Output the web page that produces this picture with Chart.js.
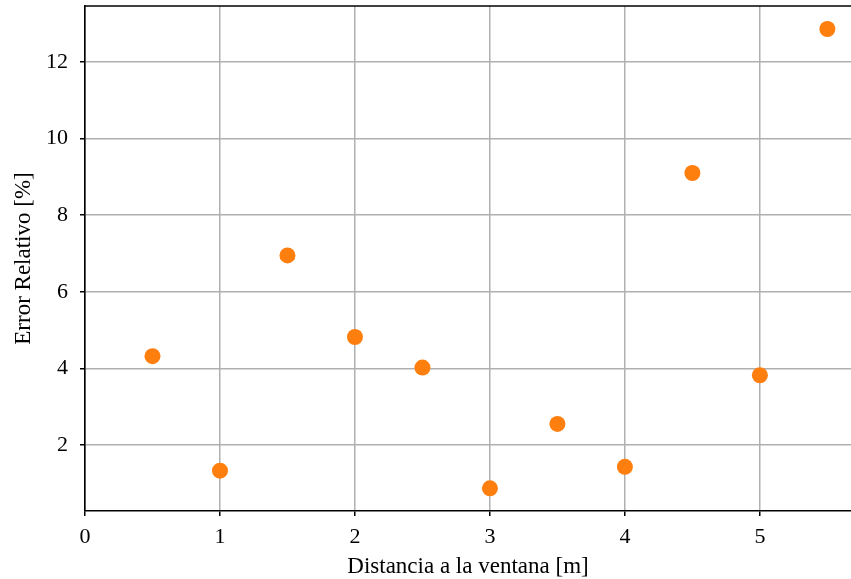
<!DOCTYPE html>
<html>
<head>
<meta charset="utf-8">
<script src="https://cdn.jsdelivr.net/npm/chart.js@4"></script>
<style>
  html, body { margin: 0; padding: 0; background: #fff; }
  #wrap { width: 851px; height: 579px; }
</style>
</head>
<body>
<div id="wrap"><canvas id="scatter_chart"></canvas></div>
<script>
// data
var distancias = [0.5, 1.0, 1.5, 2.0, 2.5, 3.0, 3.5, 4.0, 4.5, 5.0, 5.5];
var errores = [4.32, 1.33, 6.95, 4.82, 4.02, 0.87, 2.55, 1.43, 9.10, 3.82, 12.86];
var xTicks = [0, 1, 2, 3, 4, 5];
var yTicks = [2, 4, 6, 8, 10, 12];

var font = "'Liberation Serif', 'DejaVu Serif', serif";

// matplotlib-like top spine
var topSpine = {
    id: 'topSpine',
    afterDraw: function(chart) {
        var a = chart.chartArea, c = chart.ctx;
        c.save();
        c.strokeStyle = '#000';
        c.lineWidth = 1.6;
        c.beginPath();
        c.moveTo(a.left, a.top);
        c.lineTo(a.right, a.top);
        c.stroke();
        c.restore();
    }
};

var points = distancias.map(function(d, i) { return {x: d, y: errores[i]}; });

var ctx = document.getElementById("scatter_chart").getContext("2d");
new Chart(ctx, {
    type: 'scatter',
    data: {
        datasets: [{
            data: points,
            backgroundColor: '#ff7f0e',
            borderColor: '#ff7f0e',
            pointRadius: 8,
            pointHoverRadius: 8,
            borderWidth: 0
        }]
    },
    options: {
        responsive: true,
        maintainAspectRatio: false,
        animation: false,
        layout: { autoPadding: false, padding: { top: 6, right: 0, left: 0, bottom: 0 } },
        plugins: { legend: { display: false }, tooltip: { enabled: false } },
        scales: {
            x: {
                type: 'linear',
                min: 0,
                max: 5.675,
                afterBuildTicks: function(s) { s.ticks = xTicks.map(function(v) { return {value: v}; }); },
                afterFit: function(s) { s.height = 68; s.paddingLeft = 0; s.paddingRight = 0; },
                grid: { color: '#b0b0b0', lineWidth: 1.5, tickLength: 5, tickColor: '#000', tickWidth: 1.5 },
                border: { color: '#000', width: 1.6 },
                ticks: { color: '#000', font: { family: font, size: 22 }, padding: 8, maxRotation: 0 },
                title: { display: true, text: 'Distancia a la ventana [m]', color: '#000',
                         font: { family: font, size: 23 }, padding: { top: 0, bottom: -2 } }
            },
            y: {
                type: 'linear',
                min: 0.277,
                max: 13.46,
                afterBuildTicks: function(s) { s.ticks = yTicks.map(function(v) { return {value: v}; }); },
                afterFit: function(s) { s.width = 85; s.paddingTop = 0; s.paddingBottom = 0; },
                grid: { color: '#b0b0b0', lineWidth: 1.5, tickLength: 5, tickColor: '#000', tickWidth: 1.5 },
                border: { color: '#000', width: 1.6 },
                ticks: { color: '#000', font: { family: font, size: 22 }, padding: 12 },
                title: { display: true, text: 'Error Relativo [%]', color: '#000',
                         font: { family: font, size: 23 }, padding: { top: 10, bottom: 0 } }
            }
        }
    },
    plugins: [topSpine]
});
</script>
</body>
</html>
